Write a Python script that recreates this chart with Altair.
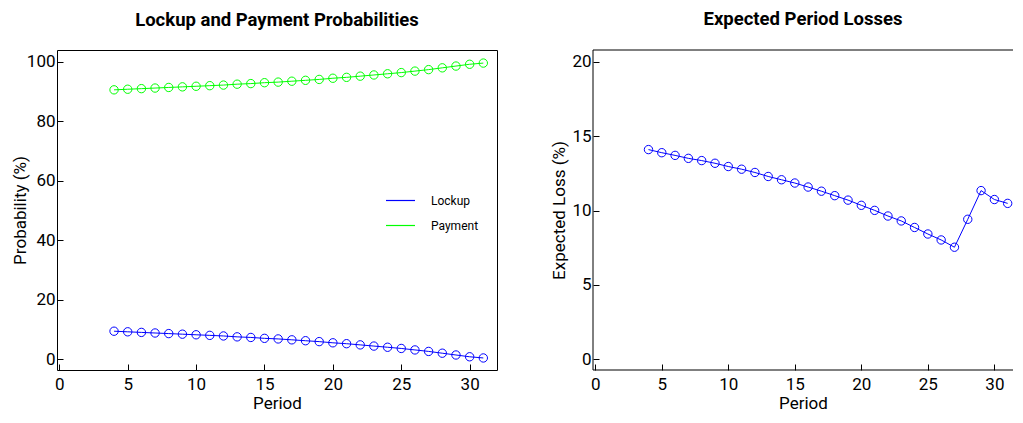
import altair as alt
import pandas as pd

periods = list(range(4, 32))
lockup = [9.4, 9.2, 9.0, 8.8, 8.6, 8.4, 8.2, 8.0, 7.8, 7.5, 7.3, 7.0, 6.8, 6.5,
          6.2, 5.9, 5.5, 5.2, 4.8, 4.4, 4.0, 3.6, 3.1, 2.6, 2.0, 1.4, 0.8, 0.4]
payment = [90.6, 90.8, 91.0, 91.2, 91.4, 91.6, 91.8, 92.0, 92.2, 92.5, 92.7, 93.0, 93.2, 93.5,
           93.8, 94.1, 94.5, 94.8, 95.2, 95.6, 96.0, 96.4, 96.9, 97.4, 98.0, 98.6, 99.2, 99.6]
loss = [14.1, 13.89, 13.71, 13.51, 13.36, 13.18, 12.96, 12.78, 12.56, 12.29, 12.07, 11.85, 11.58,
        11.3, 11.0, 10.7, 10.35, 10.01, 9.63, 9.30, 8.86, 8.42, 8.02, 7.53, 9.41, 11.34, 10.74, 10.48]
series_names = ["Lockup", "Payment"]
series_colors = ["#0000ff", "#00ff00"]
x_ticks = [0, 5, 10, 15, 20, 25, 30]
prob_ticks = [0, 20, 40, 60, 80, 100]
loss_ticks = [0, 5, 10, 15, 20]

prob_df = pd.DataFrame({
    "Period": periods * 2,
    "Series": ["Lockup"] * len(periods) + ["Payment"] * len(periods),
    "Value": lockup + payment,
})
loss_df = pd.DataFrame({"Period": periods, "Loss": loss})

FONT = "Roboto"
LW, RW, H = 440, 420, 320

def x_enc(dmax):
    return alt.X("Period:Q", title="Period",
                 scale=alt.Scale(domain=[-0.17, dmax], nice=False, zero=False),
                 axis=alt.Axis(values=x_ticks, labelPadding=6, titlePadding=3))

color_enc = alt.Color("Series:N", scale=alt.Scale(domain=series_names, range=series_colors),
                      legend=alt.Legend(title=None, orient="none", legendX=328, legendY=135,
                                        symbolType="stroke", symbolSize=841,
                                        symbolStrokeWidth=1.2, labelFontSize=12,
                                        labelFont=FONT, labelOffset=15, rowPadding=3,
                                        padding=0))

y_prob = alt.Y("Value:Q", title="Probability (%)",
               scale=alt.Scale(domain=[-3.65, 104], nice=False, zero=False),
               axis=alt.Axis(values=prob_ticks, titlePadding=-3))

title_kw = dict(font=FONT, fontSize=18.5, fontWeight="bold", offset=21, frame="group",
                anchor="middle", color="black")

base_p = alt.Chart(prob_df)
xl = x_enc(32)
left = alt.layer(
    base_p.mark_line(strokeWidth=1).encode(x=xl, y=y_prob, color=color_enc),
    base_p.mark_point(shape="circle", filled=False, size=70, strokeWidth=1, opacity=1).encode(
        x=xl, y=y_prob,
        color=alt.Color("Series:N", scale=alt.Scale(domain=series_names, range=series_colors),
                        legend=None)),
).properties(width=LW, height=H,
             title=alt.TitleParams("Lockup and Payment Probabilities", **title_kw))

y_loss = alt.Y("Loss:Q", title="Expected Loss (%)",
               scale=alt.Scale(domain=[-0.73, 20.8], nice=False, zero=False),
               axis=alt.Axis(values=loss_ticks, titlePadding=3))
base_l = alt.Chart(loss_df)
xr = x_enc(31.4)
frame_src = alt.Chart(pd.DataFrame({"k": [0]}))
right = alt.layer(
    frame_src.mark_rule(color="black", strokeWidth=1).encode(
        x=alt.value(0), x2=alt.value(RW), y=alt.value(0)),
    frame_src.mark_rule(color="black", strokeWidth=1).encode(
        x=alt.value(0), x2=alt.value(RW), y=alt.value(H)),
    frame_src.mark_rule(color="black", strokeWidth=1).encode(
        x=alt.value(0), y=alt.value(0), y2=alt.value(H)),
    base_l.mark_line(strokeWidth=1, color="#0000ff").encode(x=xr, y=y_loss),
    base_l.mark_point(shape="circle", filled=False, size=70, strokeWidth=1, opacity=1,
                      color="#0000ff").encode(x=xr, y=y_loss),
).properties(width=RW, height=H, view=alt.ViewConfig(stroke="transparent"),
             title=alt.TitleParams("Expected Period Losses", **title_kw))

chart = alt.hconcat(left, right, spacing=52).configure(
    background="white",
    padding={"left": 2, "top": 1, "right": 0, "bottom": 0},
).configure_view(stroke="black", strokeWidth=1).configure_axis(
    domain=False, grid=False, ticks=True, tickSize=6, offset=-6, tickColor="black",
    tickWidth=1, labelColor="black", labelFont=FONT, labelFontSize=17, labelPadding=2,
    titleFont=FONT, titleFontSize=17, titleFontWeight="normal", titleColor="black"
)

chart.save("out.html", embed_options={"renderer": "svg", "actions": False})
